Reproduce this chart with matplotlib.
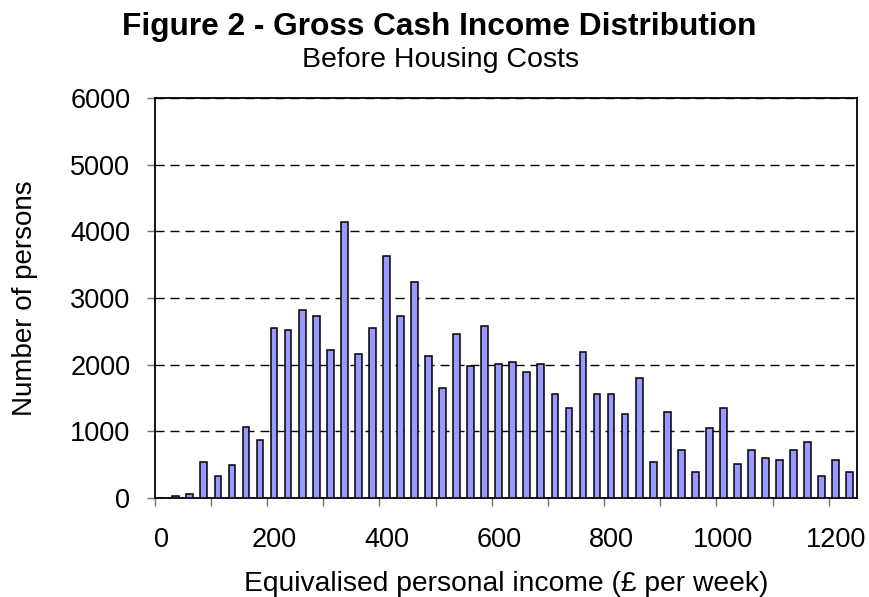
import matplotlib.pyplot as plt
import numpy as np

plt.rcParams['font.family'] = ['Liberation Sans', 'DejaVu Sans']

# income bands, 25 pounds wide
income = np.arange(0, 1250, 25)
persons = [0, 25, 55, 535, 325, 500, 1070, 865, 2545, 2525,
           2820, 2730, 2215, 4140, 2155, 2545, 3635, 2730, 3240, 2125,
           1645, 2455, 1975, 2580, 2005, 2035, 1885, 2005, 1555, 1345,
           2185, 1555, 1555, 1255, 1795, 535, 1285, 715, 385, 1045,
           1345, 505, 715, 595, 565, 715, 835, 325, 565, 385]
tick_labels = [str(v) for v in range(0, 1201, 200)]

fig = plt.figure(figsize=(8.69, 5.97), dpi=100)
ax = fig.add_axes([0.178, 0.166, 0.808, 0.670])

ax.bar(income, persons, width=12, color='#9999ff', edgecolor='black', linewidth=1.1, zorder=3)

ax.set_xlim(-12.5, 1237.5)
ax.set_ylim(0, 6000)
ax.set_yticks(range(0, 6001, 1000))
ax.yaxis.grid(True, linestyle=(0, (6.5, 4.3)), color='black', linewidth=1)

# tick marks between bands, labels under the bands
ax.set_xticks(np.arange(-12.5, 1240, 100))
ax.set_xticklabels([])
ax.set_xticks(range(0, 1201, 200), minor=True)
ax.set_xticklabels(tick_labels, minor=True)
ax.tick_params(axis='x', which='minor', length=0, pad=21, labelsize=19.5)
ax.tick_params(axis='x', which='major', length=6, width=1, color='#707070')
ax.tick_params(axis='y', length=5.5, width=1, color='#707070', labelsize=19.5, pad=12)

for s in ax.spines.values():
    s.set_linewidth(1.3)

ax.set_ylabel('Number of persons', fontsize=20, labelpad=23)
ax.set_xlabel('Equivalised personal income (£ per week)', fontsize=20.3, labelpad=13)

fig.text(0.506, 0.955, 'Figure 2 - Gross Cash Income Distribution', ha='center', va='center',
         fontsize=22.8, fontweight='bold')
fig.text(0.507, 0.899, 'Before Housing Costs', ha='center', va='center', fontsize=20.5)

fig.savefig('out.png')
